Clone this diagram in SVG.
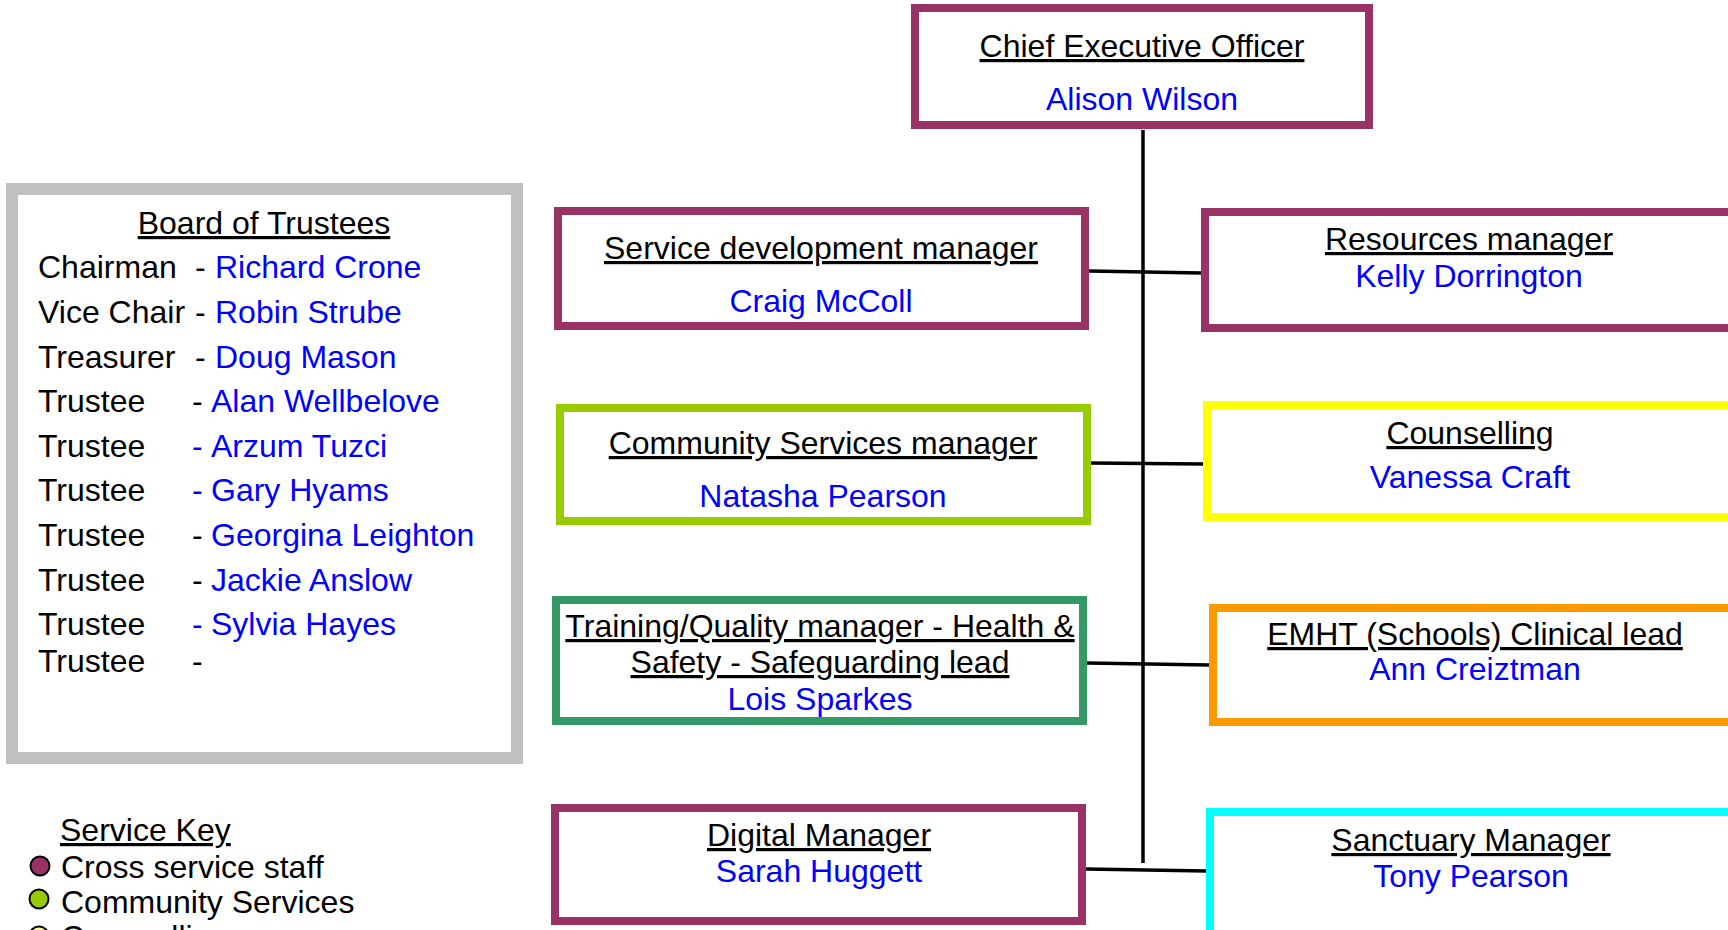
<svg xmlns="http://www.w3.org/2000/svg" width="1728" height="930" viewBox="0 0 1728 930">
<style>
text{font-family:"Liberation Sans",Arial,sans-serif;font-size:32px;fill:#000}
.t{text-anchor:middle;text-decoration:underline}
.n{text-anchor:middle;fill:#0000ff}
.b{fill:#0000ff}
.box{fill:#fff;stroke-width:8}
.pur{stroke:#993366}
.grn{stroke:#99cc00}
.yel{stroke:#ffff00}
.tea{stroke:#339966}
.org{stroke:#ff9900}
.cya{stroke:#00ffff}
.con{stroke:#000;stroke-width:3.5;fill:none}
.dot{stroke:#000;stroke-width:2}
</style>
<rect width="1728" height="930" fill="#fff"/>
<g id="connectors">
<line class="con" x1="1143" y1="130" x2="1143" y2="863"/>
<line class="con" x1="1089" y1="271" x2="1201" y2="273"/>
<line class="con" x1="1090" y1="463" x2="1203" y2="464"/>
<line class="con" x1="1087" y1="663" x2="1209" y2="665"/>
<line class="con" x1="1086" y1="869" x2="1206" y2="871"/>
</g>
<g id="ceo">
<rect class="box pur" x="915" y="8" width="454" height="117"/>
<text class="t" x="1142" y="57">Chief Executive Officer</text>
<text class="n" x="1142" y="110">Alison Wilson</text>
</g>
<g id="board">
<rect x="12" y="189" width="505" height="569" fill="#fff" stroke="#c0c0c0" stroke-width="12"/>
<text class="t" x="264" y="234">Board of Trustees</text>
<text x="38" y="278">Chairman<tspan x="195">-</tspan><tspan class="b" x="215">Richard Crone</tspan></text>
<text x="38" y="323">Vice Chair<tspan x="195">-</tspan><tspan class="b" x="215">Robin Strube</tspan></text>
<text x="38" y="368">Treasurer<tspan x="195">-</tspan><tspan class="b" x="215">Doug Mason</tspan></text>
<text x="38" y="412">Trustee<tspan x="192">-</tspan><tspan class="b" x="211">Alan Wellbelove</tspan></text>
<text x="38" y="457">Trustee<tspan class="b" x="192">-</tspan><tspan class="b" x="211">Arzum Tuzci</tspan></text>
<text x="38" y="501">Trustee<tspan class="b" x="192">-</tspan><tspan class="b" x="211">Gary Hyams</tspan></text>
<text x="38" y="546">Trustee<tspan x="192">-</tspan><tspan class="b" x="211">Georgina Leighton</tspan></text>
<text x="38" y="591">Trustee<tspan x="192">-</tspan><tspan class="b" x="211">Jackie Anslow</tspan></text>
<text x="38" y="635">Trustee<tspan class="b" x="192">-</tspan><tspan class="b" x="211">Sylvia Hayes</tspan></text>
<text x="38" y="672">Trustee<tspan x="192">-</tspan></text>
</g>
<g id="service-dev">
<rect class="box pur" x="558" y="211" width="527" height="115"/>
<text class="t" x="821" y="259">Service development manager</text>
<text class="n" x="821" y="312">Craig McColl</text>
</g>
<g id="resources">
<rect class="box pur" x="1205" y="212" width="560" height="116"/>
<text class="t" x="1469" y="250">Resources manager</text>
<text class="n" x="1469" y="287">Kelly Dorrington</text>
</g>
<g id="community">
<rect class="box grn" x="560" y="408" width="527" height="113"/>
<text class="t" x="823" y="454">Community Services manager</text>
<text class="n" x="823" y="507">Natasha Pearson</text>
</g>
<g id="training">
<rect class="box tea" x="556" y="600" width="527" height="121"/>
<text class="t" x="820" y="637">Training/Quality manager - Health &amp;</text>
<text class="t" x="820" y="673">Safety - Safeguarding lead</text>
<text class="n" x="820" y="710">Lois Sparkes</text>
</g>
<g id="counselling">
<rect class="box yel" x="1207" y="405" width="560" height="112"/>
<text class="t" x="1470" y="444">Counselling</text>
<text class="n" x="1470" y="488">Vanessa Craft</text>
</g>
<g id="emht">
<rect class="box org" x="1213" y="608" width="560" height="114"/>
<text class="t" x="1475" y="645">EMHT (Schools) Clinical lead</text>
<text class="n" x="1475" y="680">Ann Creiztman</text>
</g>
<g id="digital">
<rect class="box pur" x="555" y="808" width="527" height="113"/>
<text class="t" x="819" y="846">Digital Manager</text>
<text class="n" x="819" y="882">Sarah Huggett</text>
</g>
<g id="sanctuary">
<rect class="box cya" x="1210" y="812" width="560" height="140"/>
<text class="t" x="1471" y="851">Sanctuary Manager</text>
<text class="n" x="1471" y="887">Tony Pearson</text>
</g>
<g id="service-key">
<text x="60" y="841" style="text-decoration:underline">Service Key</text>
<circle class="dot" cx="40" cy="866" r="9.5" fill="#993366"/>
<text x="61" y="878">Cross service staff</text>
<circle class="dot" cx="39" cy="899" r="9.5" fill="#99cc00"/>
<text x="61" y="913">Community Services</text>
<circle class="dot" cx="39" cy="936" r="9.5" fill="#ffff99"/>
<text x="61" y="948">Counselling</text>
</g>
</svg>
